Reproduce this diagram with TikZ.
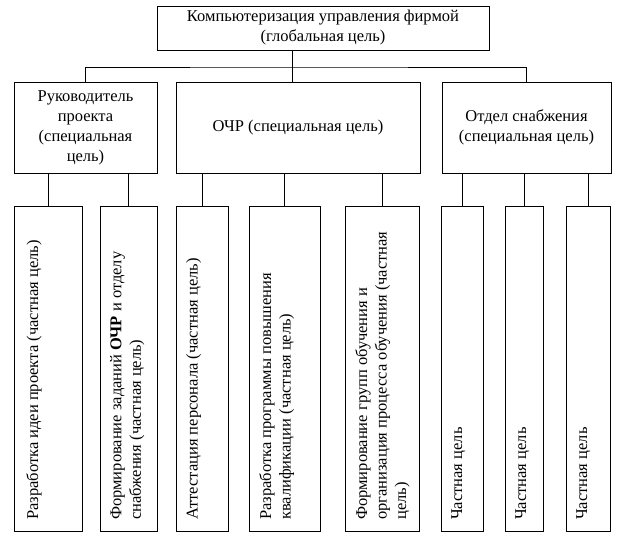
\documentclass[tikz,border=0pt]{standalone}
\usepackage{fontspec}
\setmainfont{Liberation Serif}

\begin{document}
\begin{tikzpicture}[x=1pt,y=-1pt,
	goalbox/.style={draw, line width=0.9pt, inner sep=0pt, align=center,
		font=\fontsize{16.5}{20}\selectfont},
	partbox/.style={draw, line width=0.9pt, inner sep=0pt, minimum height=325pt},
	vtext/.style={rotate=90, anchor=north west, inner sep=0pt, align=left,
		font=\fontsize{16.5}{19.5}\selectfont},
	link/.style={line width=0.9pt}]
	\useasboundingbox (0,0) rectangle (630,536);
	\def\yb{368.5}
	\def\yt{520}
	
	%global goal
	\node[goalbox, minimum width=332pt, minimum height=44pt] (goal) at (323,28)
	{Компьютеризация управления фирмой\\(глобальная цель)};
	
	%special goals
	\node[goalbox, minimum width=143pt, minimum height=91pt] (rp) at (85.5,127.5)
	{Руководитель\\проекта\\(специальная\\цель)};
	\node[goalbox, minimum width=244pt, minimum height=91pt] (ochr) at (298,127.5)
	{ОЧР (специальная цель)};
	\node[goalbox, minimum width=169pt, minimum height=91pt] (os) at (526.5,127.5)
	{Отдел снабжения\\(специальная цель)};
	
	% junction under the global goal
	\coordinate (fork) at (292,67);
	\draw[link] (fork |- goal.south) -- (fork |- ochr.north);
	\draw[link] (rp.north) |- (fork) -| (os.north);
	
	%cluster 1
	\node[partbox, minimum width=68pt] (b1) at (48,\yb) {};
	\node[partbox, minimum width=57pt] (b2) at (128.5,\yb) {};
	% Text Node
	\node[vtext] (t1) at (26,\yt) {Разработка идеи проекта (частная цель)};
	% Text Node
	\node[vtext] (t2) at (110,\yt) {Формирование заданий \textbf{ОЧР} и отделу\\снабжения (частная цель)};
	\draw[link] (rp.south -| b1) -- (b1.north);
	\draw[link] (rp.south -| b2) -- (b2.north);
	
	%cluster 2
	\node[partbox, minimum width=52pt] (b3) at (202,\yb) {};
	\node[partbox, minimum width=71pt] (b4) at (284.5,\yb) {};
	\node[partbox, minimum width=74pt] (b5) at (382,\yb) {};
	% Text Node
	\node[vtext] (t3) at (186,\yt) {Аттестация персонала (частная цель)};
	% Text Node
	\node[vtext] (t4) at (259,\yt) {Разработка программы повышения\\квалификации (частная цель)};
	% Text Node
	\node[vtext] (t5) at (355,\yt) {Формирование групп обучения и\\организация процесса обучения (частная\\цель)};
	\draw[link] (ochr.south -| b3) -- (b3.north);
	\draw[link] (ochr.south -| b4) -- (b4.north);
	\draw[link] (ochr.south -| b5) -- (b5.north);
	
	%cluster 3
	\node[partbox, minimum width=42pt] (b6) at (462,\yb) {};
	\node[partbox, minimum width=38pt] (b7) at (524,\yb) {};
	\node[partbox, minimum width=44pt] (b8) at (588,\yb) {};
	% Text Node
	\node[vtext] (t6) at (451,\yt) {Частная цель};
	% Text Node
	\node[vtext] (t7) at (515,\yt) {Частная цель};
	% Text Node
	\node[vtext] (t8) at (576,\yt) {Частная цель};
	\draw[link] (os.south -| b6) -- (b6.north);
	\draw[link] (os.south -| b7) -- (b7.north);
	\draw[link] (os.south -| b8) -- (b8.north);
\end{tikzpicture}
\end{document}
